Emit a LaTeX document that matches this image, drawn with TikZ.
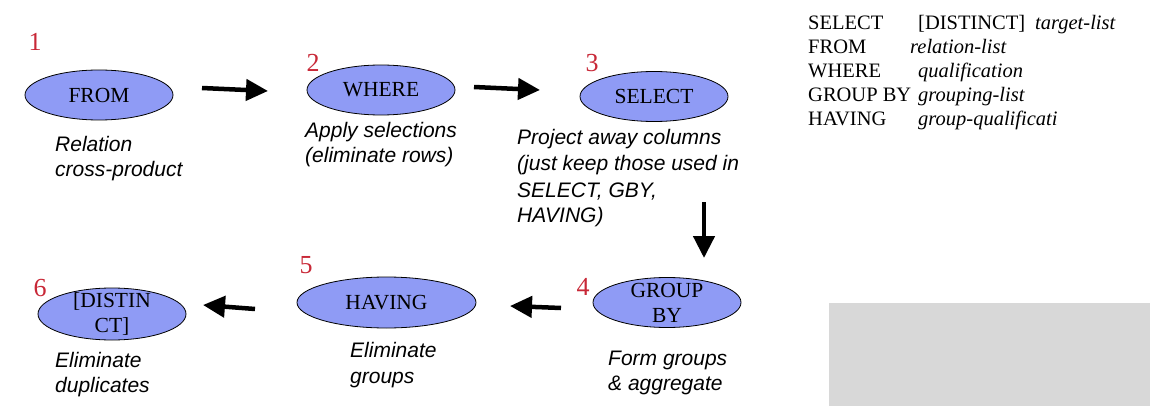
\documentclass[tikz,border=0pt]{standalone}
\usepackage{fontspec}
\setmainfont{Liberation Serif}
\setsansfont{Liberation Sans}
\usetikzlibrary{shapes.geometric,arrows.meta}
\definecolor{ellfill}{RGB}{143,155,245}
\definecolor{numred}{RGB}{200,40,55}
\definecolor{panelgray}{RGB}{216,216,216}
\tikzset{
  stage/.style={ellipse, draw=black, line width=0.8pt, fill=ellfill, inner sep=0pt,
    minimum width=148pt, minimum height=50pt},
  stagetext/.style={inner sep=0pt, align=center, font=\fontsize{21.5}{25}\selectfont},
  num/.style={text=numred, inner sep=0pt, font=\fontsize{26}{26}\selectfont},
  note/.style={anchor=base west, inner sep=0pt, font=\fontsize{21}{26}\sffamily\itshape},
  sql/.style={anchor=base west, inner sep=0pt, font=\fontsize{20.5}{24}\selectfont},
  flow/.style={line width=4.5pt, -{Triangle[length=22pt,width=21pt]}},
}
\begin{document}
\begin{tikzpicture}[x=1pt,y=-1pt]
\useasboundingbox (0,0) rectangle (1150,406);
\fill[panelgray] (829,303) rectangle (1150,406);

% stages
\node[stage] (from) at (99,95) {};
\node[stagetext] (fromt) at (from) {FROM};
\node[stage] (where) at (381,90) {};
\node[stagetext] (wheret) at (where) {WHERE};
\node[stage] (select) at (654,96.5) {};
\node[stagetext] (selectt) at (select) {SELECT};
\node[stage] (groupby) at (667,302.5) {};
\node[stagetext] (groupbyt) at (groupby) {GROUP\\BY};
\node[stage, minimum width=179pt, minimum height=51pt] (having) at (386.5,302.5) {};
\node[stagetext] (havingt) at (having) {HAVING};
\node[stage, minimum height=52pt] (distinct) at (112,314) {};
\node[stagetext] (distinctt) at (distinct) {[DISTIN\\CT]};

% numbers
\node[num] (n1) at (35,42) {1};
\node[num] (n2) at (313,63) {2};
\node[num] (n3) at (592,63) {3};
\node[num] (n4) at (583,287) {4};
\node[num] (n5) at (306,265) {5};
\node[num] (n6) at (40,288) {6};

% notes
\node[note] (r1) at (55,152) {Relation};
\node[note] (r2) at (55,177) {cross-product};
\node[note] (w1) at (305,138) {Apply selections};
\node[note] (w2) at (305,163) {(eliminate rows)};
\node[note] (s1) at (517,145) {Project away columns};
\node[note] (s2) at (517,171) {(just keep those used in};
\node[note] (s3) at (517,197) {SELECT, GBY,};
\node[note] (s4) at (517,222) {HAVING)};
\node[note] (g1) at (608,365) {Form groups};
\node[note] (g2) at (608,390) {\& aggregate};
\node[note] (h1) at (350,357) {Eliminate};
\node[note] (h2) at (350,383) {groups};
\node[note] (d1) at (55,367) {Eliminate};
\node[note] (d2) at (55,392) {duplicates};

% arrows
\coordinate (a1s) at (202,88);  \coordinate (a1e) at (268,91);
\coordinate (a2s) at (474,87);  \coordinate (a2e) at (540,90);
\coordinate (a3s) at (704,202); \coordinate (a3e) at (704,258);
\coordinate (a4s) at (561,308); \coordinate (a4e) at (510,306);
\coordinate (a5s) at (255,309); \coordinate (a5e) at (203,305);
\draw[flow] (a1s) -- (a1e);
\draw[flow] (a2s) -- (a2e);
\draw[flow] (a3s) -- (a3e);
\draw[flow] (a4s) -- (a4e);
\draw[flow] (a5s) -- (a5e);

% SQL template
\node[sql] (q1) at (808,30) {SELECT};
\node[sql] (q1b) at (918,30) {[DISTINCT]};
\node[sql] (q1c) at (1035,30) {\itshape target-list};
\node[sql] (q2) at (808,54) {FROM};
\node[sql] (q2b) at (910,54) {\itshape relation-list};
\node[sql] (q3) at (808,78) {WHERE};
\node[sql] (q3b) at (918,78) {\itshape qualification};
\node[sql] (q4) at (808,102) {GROUP BY};
\node[sql] (q4b) at (918,102) {\itshape grouping-list};
\node[sql] (q5) at (808,126) {HAVING};
\node[sql] (q5b) at (918,126) {\itshape group-qualificati};
\end{tikzpicture}
\end{document}
